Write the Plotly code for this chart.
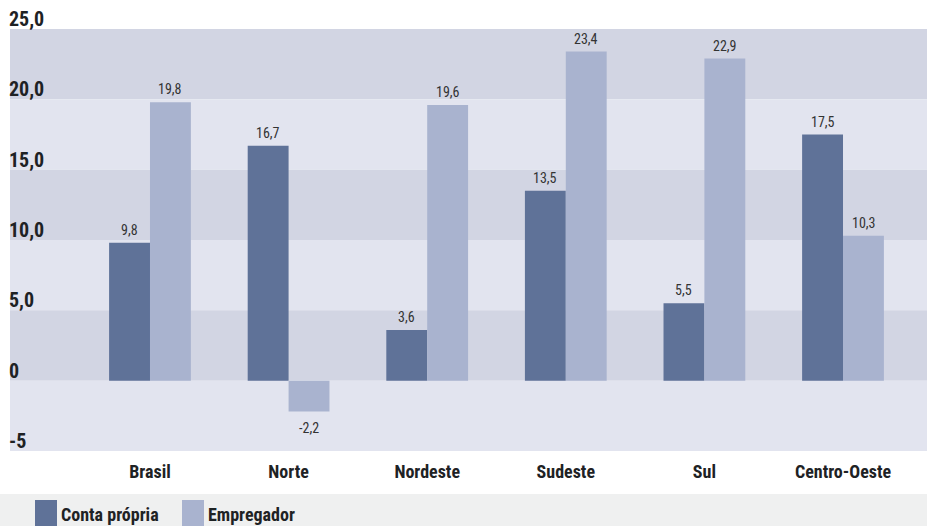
import plotly.graph_objects as go

regions = ["Brasil", "Norte", "Nordeste", "Sudeste", "Sul", "Centro-Oeste"]
conta_propria = [9.8, 16.7, 3.6, 13.5, 5.5, 17.5]
empregador = [19.8, -2.2, 19.6, 23.4, 22.9, 10.3]
y_ticks = [25, 20, 15, 10, 5, 0, -5]
y_tick_labels = ["25,0", "20,0", "15,0", "10,0", "5,0", "0", "-5"]

dark_blue = "#5f7298"
light_blue = "#a9b3cf"
band_dark = "#d2d5e3"
band_light = "#e2e4ef"
text_color = "#1e2224"
cond_font = "Roboto Condensed, Noto Sans Condensed, Liberation Sans Narrow, DejaVu Sans Condensed, sans-serif"

PLOT_H = 422  # plot area height in px (t=29, b=75)
PLOT_W = 917

def py(pixel_y):
    # page pixel -> paper y
    return (451 - pixel_y) / PLOT_H

def px(pixel_x):
    return (pixel_x - 10) / PLOT_W

fig = go.Figure()
fig.add_trace(go.Bar(x=regions, y=conta_propria, name="Conta própria",
                     marker=dict(color=dark_blue, line=dict(width=0))))
fig.add_trace(go.Bar(x=regions, y=empregador, name="Empregador",
                     marker=dict(color=light_blue, line=dict(width=0))))

# alternating horizontal bands behind the bars
for i in range(len(y_ticks) - 1):
    top, bottom = y_ticks[i], y_ticks[i + 1]
    fig.add_shape(type="rect", xref="paper", yref="y", x0=0, x1=1, y0=bottom, y1=top,
                  fillcolor=band_dark if i % 2 == 0 else band_light,
                  line=dict(width=0), layer="below")

# legend strip at the bottom
fig.add_shape(type="rect", xref="paper", yref="paper", x0=px(0), x1=1.0,
              y0=py(527), y1=py(494), fillcolor="#eff0f0", line=dict(width=0), layer="below")

for val, txt in zip(y_ticks, y_tick_labels):
    fig.add_annotation(x=0, xref="paper", xanchor="left", xshift=-3,
                       y=val, yref="y", yanchor="bottom", yshift=-4,
                       text=txt, showarrow=False,
                       font=dict(family=cond_font, size=20, color=text_color, weight="bold"))

def fmt(v):
    return f"{v:.1f}".replace(".", ",")

for series, shift in [(conta_propria, -20.5), (empregador, 20.5)]:
    for reg, v in zip(regions, series):
        fig.add_annotation(x=reg, y=v, xshift=shift, text=fmt(v), showarrow=False,
                           yanchor="bottom" if v >= 0 else "top",
                           yshift=3 if v >= 0 else -6,
                           font=dict(family=cond_font, size=14, color="#333333"))

# manual legend with large swatches
for label, color, x_left in [("Conta própria", dark_blue, 35), ("Empregador", light_blue, 182)]:
    fig.add_shape(type="rect", xref="paper", yref="paper",
                  x0=px(x_left), x1=px(x_left + 22), y0=py(527), y1=py(500),
                  fillcolor=color, line=dict(width=0))
    fig.add_annotation(xref="paper", yref="paper", x=px(x_left + 24), xanchor="left",
                       y=py(514), yanchor="middle", text=label, showarrow=False,
                       font=dict(family=cond_font, size=18, color=text_color, weight="bold"))

fig.update_layout(
    width=927, height=526,
    margin=dict(l=10, r=0, t=29, b=75),
    paper_bgcolor="white",
    plot_bgcolor="white",
    barmode="group",
    bargap=0.41,
    bargroupgap=0,
    showlegend=False,
    xaxis=dict(range=[-1.01, 5.606], showgrid=False, zeroline=False, showline=False,
               ticks="", ticklabelstandoff=8,
               tickfont=dict(family=cond_font, size=18, color=text_color, weight="bold")),
    yaxis=dict(range=[-5, 25], showgrid=False, zeroline=False, showline=False,
               showticklabels=False, ticks=""),
)

fig.write_html("out.html", config={"displayModeBar": False},
               post_script="document.body.style.margin='0';document.body.style.overflow='hidden';")
